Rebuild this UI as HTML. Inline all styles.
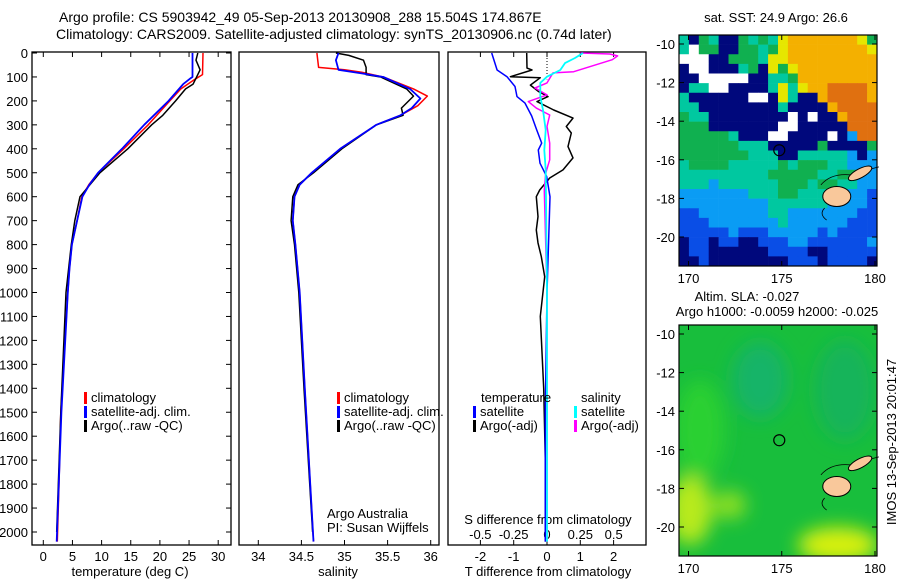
<!DOCTYPE html>
<html><head><meta charset="utf-8"><style>
html,body{margin:0;padding:0;background:#fff}
svg{display:block}
text{font-family:"Liberation Sans",sans-serif;font-size:13px;fill:#000}
</style></head><body>
<svg id="fig" width="900" height="580" viewBox="0 0 900 580">
<text x="59" y="22" style="font-size:14px">Argo profile: CS 5903942_49 05-Sep-2013 20130908_288 15.504S 174.867E</text>
<text x="56" y="39" style="font-size:14px">Climatology: CARS2009. Satellite-adjusted climatology: synTS_20130906.nc (0.74d later)</text>
<g id="g1"></g>
<g id="g2"></g>
<g id="g3"></g>
<g id="m1"></g>
<g id="m2"></g>
</svg>
<script>
// ---- profile data ----
const tClimDepth=[0,90,110,150,200,300,400,500,550,600,700,800,900,1000,1500,1800,2040];
const tClim=[27.4,27.3,26,23.6,21.7,18,13.8,9.4,7.8,6.6,5.8,4.9,4.5,4.2,3.0,2.7,2.4];
const tSatDepth=[0,100,105,130,200,300,400,500,550,600,700,800,900,1000,1500,2040];
const tSat=[25.6,25.6,25.3,24,21.5,17.3,13.5,9.4,7.9,6.7,5.8,4.9,4.5,4.2,3.1,2.3];
const tArgoDepth=[0,30,70,90,130,150,200,260,300,400,500,600,700,800,1000,1500,2000];
const tArgo=[26.5,26.2,26.9,26.5,25.7,24.4,22.7,20.5,18.6,14.5,9.7,6.3,5.4,4.8,3.9,3.0,2.3];
const sClimDepth=[0,60,70,80,100,150,180,220,260,300,400,500,550,600,700,800,1000,1400,2040];
const sClim=[34.68,34.7,35.0,35.2,35.45,35.8,35.96,35.85,35.65,35.37,34.95,34.62,34.48,34.42,34.4,34.43,34.48,34.54,34.64];
const sSatDepth=[0,30,70,85,100,150,190,230,260,300,400,500,550,600,700,800,1000,1400,2040];
const sSat=[34.93,34.9,34.93,35.2,35.45,35.76,35.88,35.78,35.65,35.37,34.95,34.62,34.48,34.42,34.4,34.43,34.48,34.54,34.64];
const sArgoDepth=[0,10,30,60,90,100,150,180,230,260,300,400,500,550,600,700,800,1000,1400,2000];
const sArgo=[34.9,35.05,35.22,35.25,35.25,35.42,35.72,35.8,35.66,35.68,35.37,34.97,34.64,34.46,34.4,34.38,34.42,34.47,34.53,34.63];
const dTSatDepth=[0,71,99,140,182,209,263,321,376,405,460,516,600,1000,1500,2040];
const dTSat=[-1.66,-1.5,-1.2,-0.96,-0.9,-0.66,-0.46,-0.31,-0.16,-0.26,-0.21,-0.01,0.09,0.0,-0.05,-0.05];
const dTArgoDepth=[0,63,71,99,103,134,161,182,203,238,272,307,334,391,438,488,522,572,600,683,739,793,850,934,1100,1400,1700,2040];
const dTArgo=[-0.61,-0.6,-0.45,-1.1,-0.2,-0.5,-0.25,0.03,-0.3,0.2,0.78,0.58,0.73,0.63,0.78,0.48,0.08,-0.22,-0.32,-0.27,-0.32,-0.27,-0.17,-0.07,-0.2,-0.1,-0.05,-0.05];
const dSArgoDepth=[0,4,12,28,78,83,125,146,175,203,230,259,307,376,446,502,572,1000,2040];
const dSArgo=[0.25,0.47,0.53,0.49,0.2,0.045,0.0,-0.09,0.0,-0.14,-0.08,0.02,0.0,0.02,0.02,-0.01,-0.02,0.0,0.0];
const dSSatDepth=[0,21,42,71,99,125,182,238,321,405,488,1000,2040];
const dSSat=[0.27,0.21,0.135,0.1,0.0,-0.05,-0.05,-0.03,-0.01,-0.02,-0.01,0,0];
const depthTicks=[0,100,200,300,400,500,600,700,800,900,1000,1100,1200,1300,1400,1500,1600,1700,1800,1900,2000];
const tTicks=[0,5,10,15,20,25,30];
const sTicks=["34","34.5","35","35.5","36"];
const dTTicks=["-2","-1","0","1","2"];
const dSTicks=["-0.5","-0.25","0","0.25","0.5"];
// ---- SST map cells (row = 0.5 deg lat) ----
const sstRows=[
"CNGCNNGCGCYOOOOOOOYG","CWGGNNGGCGYOOOOOOOOY","WWWNNGGGCYYOOOOOOOOO","NWWNNNCGNYGYOOOOOOOO",
"NNWWWWWNNCCGOOOOOOOO","NCCWWNNNNCYCYOORRRRO","CNNNNNNWWNYCNNORRRRO","CCNNNNNNNNCNNNNORRRR",
"GCCNNNNNNNNWNWNNORRR","GGGNNNNNNNWWNNNNNRRR","GGGGGCNNNWWNNNNWNLRR","GGGGGGCCCNNNNNGNNNNG",
"GGGGGGGCCCNNCCCCCLNL","CGGGGCCCCCGCGGGCCLLL","CCCCCCCCCGGGGGCCGGLL","CCCLCCCCCCGGGCGGCCLL",
"LLLLLLLCCCGGCCCCLLLB","LLLLLLLLLCCCCCCLLLLB","BBLLLLLLLCCLLLLLLLBB","BBBLLLLLLLCLLLLLLBBB",
"BBBBBLBBBLLLLLBLBBBB","NBBNBBNNBBBLLBBBBBBL","NBBNNNNNNBBBBNNBBBBB","NNBNNNNNNNNBBBNBBBBN"];
const mapLatTicks=[-10,-12,-14,-16,-18,-20];
const mapLonTicks=[170,175,180];
const argoLon=174.867, argoLat=-15.504;

const NS='http://www.w3.org/2000/svg';
function mk(parent,tag,attrs,txt){const e=document.createElementNS(NS,tag);for(const k in attrs)e.setAttribute(k,attrs[k]);if(txt!==undefined)e.textContent=txt;parent.appendChild(e);return e;}
const Y0=53,DY=0.2395,TOP=52,BOT=545;
const yD=d=>Y0+d*DY;
const xT=v=>43.3+v*5.83;
const xS=v=>258.3+(v-34)*86.2;
const xDT=v=>547+v*33.3;
const xDS=v=>547+v*133.3;

function frame(g,x0,x1,name){
  const r=mk(g,'rect',{x:x0,y:TOP,width:x1-x0,height:BOT-TOP,fill:'none',stroke:'#000','stroke-width':1.3});
  
  
}
function line(g,depths,vals,fx,color,w,name){
  let d='';depths.forEach((dp,i)=>{d+=(i?'L':'M')+fx(vals[i]).toFixed(1)+','+yD(dp).toFixed(1);});
  const p=mk(g,'path',{d:d,fill:'none',stroke:color,'stroke-width':w,'stroke-linejoin':'round'});
  
  
}
function legend(g,x,y,color,label,name){
  const r=mk(g,'rect',{x:x,y:y-10,width:3,height:12,fill:color});
  
  
  const t=mk(g,'text',{x:x+7,y:y},label);
  
  
}
const g1=document.getElementById('g1'),g2=document.getElementById('g2'),g3=document.getElementById('g3');
// panel 1
frame(g1,32,231,'temperature-frame');
depthTicks.forEach(d=>{
  const y=yD(d);
  mk(g1,'line',{x1:32,x2:37,y1:y,y2:y,stroke:'#000'});
  mk(g1,'line',{x1:226,x2:231,y1:y,y2:y,stroke:'#000'});
  const t=mk(g1,'text',{x:28,y:y+5,'text-anchor':'end'},String(d));
  
  
});
tTicks.forEach(v=>{
  const x=xT(v);
  mk(g1,'line',{x1:x,x2:x,y1:BOT,y2:BOT-5,stroke:'#000'});
  mk(g1,'line',{x1:x,x2:x,y1:TOP,y2:TOP+5,stroke:'#000'});
  const t=mk(g1,'text',{x:x,y:561,'text-anchor':'middle'},String(v));
  
  
});
mk(g1,'text',{x:130,y:576,'text-anchor':'middle',},'temperature (deg C)');
line(g1,tClimDepth,tClim,xT,'#f00',1.5,'temperature-climatology-line');
line(g1,tArgoDepth,tArgo,xT,'#000',1.5,'temperature-argo-line');
line(g1,tSatDepth,tSat,xT,'#00f',1.8,'temperature-satellite-line');
legend(g1,84,402,'#f00','climatology','legend-climatology');
legend(g1,84,416,'#00f','satellite-adj. clim.','legend-satellite');
legend(g1,84,430,'#000','Argo(..raw -QC)','legend-argo');
// panel 2
frame(g2,239,439,'salinity-frame');
sTicks.forEach(s=>{
  const x=xS(parseFloat(s));
  mk(g2,'line',{x1:x,x2:x,y1:BOT,y2:BOT-5,stroke:'#000'});
  const t=mk(g2,'text',{x:x,y:561,'text-anchor':'middle'},s);
  
  
});
mk(g2,'text',{x:338,y:576,'text-anchor':'middle',},'salinity');
line(g2,sClimDepth,sClim,xS,'#f00',1.5,'salinity-climatology-line');
line(g2,sArgoDepth,sArgo,xS,'#000',1.5,'salinity-argo-line');
line(g2,sSatDepth,sSat,xS,'#00f',1.8,'salinity-satellite-line');
legend(g2,337,402,'#f00','climatology','legend-climatology-2');
legend(g2,337,416,'#00f','satellite-adj. clim.','legend-satellite-2');
legend(g2,337,430,'#000','Argo(..raw -QC)','legend-argo-2');
mk(g2,'text',{x:327,y:518,},'Argo Australia');
mk(g2,'text',{x:327,y:532,},'PI: Susan Wijffels');
// panel 3
frame(g3,448,646,'difference-frame');
dTTicks.forEach(s=>{
  const x=xDT(parseFloat(s));
  mk(g3,'line',{x1:x,x2:x,y1:BOT,y2:BOT-5,stroke:'#000'});
  mk(g3,'line',{x1:x,x2:x,y1:TOP,y2:TOP+5,stroke:'#000'});
  const t=mk(g3,'text',{x:x,y:561,'text-anchor':'middle'},s);
  
  
});
dSTicks.forEach(s=>{
  const t=mk(g3,'text',{x:xDS(parseFloat(s)),y:539,'text-anchor':'middle'},s);
  
  
});
mk(g3,'text',{x:548,y:524,'text-anchor':'middle',},'S difference from climatology');
mk(g3,'text',{x:548,y:576,'text-anchor':'middle',},'T difference from climatology');
mk(g3,'line',{x1:547,x2:547,y1:TOP,y2:yD(110),stroke:'#000','stroke-dasharray':'1,2'});
line(g3,dTArgoDepth,dTArgo,xDT,'#000',1.5,'t-diff-argo-line');
line(g3,dTSatDepth,dTSat,xDT,'#00f',1.5,'t-diff-satellite-line');
line(g3,dSArgoDepth,dSArgo,xDS,'#f0f',1.5,'s-diff-argo-line');
line(g3,dSSatDepth,dSSat,xDS,'#0ff',1.8,'s-diff-satellite-line');
mk(g3,'text',{x:481,y:402,},'temperature');
mk(g3,'text',{x:581,y:402,},'salinity');
legend(g3,473,416,'#00f','satellite','legend-t-satellite');
legend(g3,473,430,'#000','Argo(-adj)','legend-t-argo');
legend(g3,574,416,'#0ff','satellite','legend-s-satellite');
legend(g3,574,430,'#f0f','Argo(-adj)','legend-s-argo');
// ---- maps ----
const COL={N:'#00087c',B:'#0a4ee6',L:'#0a9cf4',C:'#00c8a0',G:'#10b050',Y:'#e6e600',O:'#f4b000',R:'#e07010',W:'#ffffff'};
function mapAxes(g,top,bot,lonX,latY,labY){
  mapLatTicks.forEach(v=>{const y=latY(v);
    mk(g,'line',{x1:679,x2:684,y1:y,y2:y,stroke:'#000'});mk(g,'line',{x1:872,x2:877,y1:y,y2:y,stroke:'#000'});
    const t=mk(g,'text',{x:675,y:y+5,'text-anchor':'end'},String(v));
    
    });
  mapLonTicks.forEach(v=>{const x=lonX(v);
    mk(g,'line',{x1:x,x2:x,y1:top,y2:top+5,stroke:'#000'});mk(g,'line',{x1:x,x2:x,y1:bot,y2:bot-5,stroke:'#000'});
    const t=mk(g,'text',{x:x,y:labY,'text-anchor':'middle'},String(v));
    
    });
  mk(g,'rect',{x:679,y:top,width:198,height:bot-top,fill:'none',stroke:'#000','stroke-width':1.2});
}
function islands(g,lonX,latY){
  mk(g,'path',{d:`M${lonX(177.1)},${latY(-17.3)} q10,-12 30,-10 q12,-4 28,-8 M${lonX(177.3)},${latY(-18.5)} q-6,6 2,12`,fill:'none',stroke:'#000','stroke-width':0.8});
  const e1=mk(g,'ellipse',{cx:lonX(177.95),cy:latY(-17.9),rx:14,ry:10,fill:'#f9c89b',stroke:'#000','stroke-width':1});
  
  
  const e2=mk(g,'ellipse',{cx:lonX(179.2),cy:latY(-16.7),rx:13,ry:4.5,fill:'#f9c89b',stroke:'#000','stroke-width':1,transform:`rotate(-28 ${lonX(179.2)} ${latY(-16.7)})`});
  
  
  const c=mk(g,'circle',{cx:lonX(argoLon),cy:latY(argoLat),r:5.5,fill:'none',stroke:'#000','stroke-width':1.2});
  
  
}
// map 1
const m1=document.getElementById('m1');
const lonX1=l=>688.5+(l-170)*18.65, latY1=a=>44+(-10-a)*19.3;
const cw=198/20, ch=231/24;
sstRows.forEach((row,r)=>{for(let c=0;c<row.length;c++){
  const cell=mk(m1,'rect',{x:(679+c*cw).toFixed(2),y:(35+r*ch).toFixed(2),width:(cw+0.3).toFixed(2),height:(ch+0.3).toFixed(2),fill:COL[row[c]]});
  
  
}});
islands(m1,lonX1,latY1);
mapAxes(m1,35,266,lonX1,latY1,283);
mk(m1,'text',{x:776,y:22,'text-anchor':'middle',},'sat. SST: 24.9 Argo: 26.6');
// map 2
const m2=document.getElementById('m2');
const lonX2=lonX1, latY2=a=>334+(-10-a)*19.3;
const defs=mk(m2,'defs',{});
const f=mk(defs,'filter',{id:'bl',x:'-50%',y:'-50%',width:'200%',height:'200%'});
mk(f,'feGaussianBlur',{stdDeviation:9});
const cp=mk(defs,'clipPath',{id:'cp2'});mk(cp,'rect',{x:679,y:325,width:198,height:231});
const mg=mk(m2,'g',{'clip-path':'url(#cp2)'});
const bg=mk(mg,'rect',{x:679,y:325,width:198,height:231,fill:'#18be3c'});


const bl=mk(mg,'g',{filter:'url(#bl)'});
mk(bl,'ellipse',{cx:760,cy:380,rx:28,ry:38,fill:'#12b468'});
mk(bl,'ellipse',{cx:845,cy:390,rx:30,ry:50,fill:'#14b45a'});
mk(bl,'ellipse',{cx:690,cy:510,rx:22,ry:35,fill:'#b8ea1a'});
mk(bl,'ellipse',{cx:730,cy:505,rx:16,ry:14,fill:'#90e020'});
mk(bl,'ellipse',{cx:838,cy:545,rx:40,ry:18,fill:'#d8f010'});
mk(bl,'ellipse',{cx:700,cy:430,rx:25,ry:50,fill:'#2ad030'});
islands(m2,lonX2,latY2);
mapAxes(m2,325,556,lonX2,latY2,573);
mk(m2,'text',{x:747,y:301,'text-anchor':'middle',},'Altim. SLA: -0.027');
mk(m2,'text',{x:777,y:316,'text-anchor':'middle',},'Argo h1000: -0.0059 h2000: -0.025');
mk(m2,'text',{x:0,y:0,transform:'translate(896,442) rotate(-90)','text-anchor':'middle',},'IMOS 13-Sep-2013 20:01:47');
</script>
</body></html>
